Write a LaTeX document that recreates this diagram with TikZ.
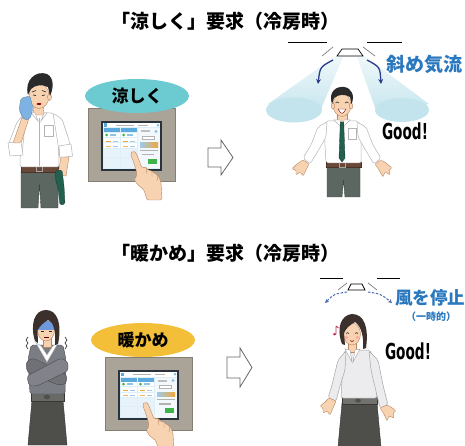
\documentclass[tikz,border=0pt]{standalone}
\usepackage{fontspec}
\newfontfamily\jp{Noto Sans CJK JP}
\newfontfamily\goodfont{DejaVu Sans}[FakeStretch=0.62]
\usetikzlibrary{arrows.meta,shapes.geometric}
\definecolor{tealc}{HTML}{6CCBD0}
\definecolor{yellowc}{HTML}{F3BE38}
\definecolor{panelgray}{HTML}{A9A398}
\definecolor{paneledge}{HTML}{857E73}
\definecolor{bezel}{HTML}{2A323C}
\definecolor{screenbg}{HTML}{DDEFF8}
\definecolor{uiblue}{HTML}{5BA9DD}
\definecolor{uigreen}{HTML}{3DB34A}
\definecolor{uiorange}{HTML}{F2A63A}
\definecolor{skinc}{HTML}{F7D3B2}
\definecolor{skinedge}{HTML}{B98660}
\definecolor{hairc}{HTML}{2A2A2A}
\definecolor{hairw}{HTML}{3B302C}
\definecolor{shirtedge}{HTML}{B4B4B8}
\definecolor{pantsc}{HTML}{5D6762}
\definecolor{pantsedge}{HTML}{3E4541}
\definecolor{beltc}{HTML}{6A4838}
\definecolor{tiec}{HTML}{22604F}
\definecolor{towelc}{HTML}{7DB2E2}
\definecolor{beamtop}{HTML}{EEF8FA}
\definecolor{beambot}{HTML}{C4E4ED}
\definecolor{arrowblue}{HTML}{2B3E8E}
\definecolor{dashblue}{HTML}{4C6CB4}
\definecolor{textblue}{HTML}{2A78BE}
\definecolor{wtop}{HTML}{7B7D84}
\definecolor{wtopedge}{HTML}{4A4C52}
\definecolor{skirtc}{HTML}{4E4F4A}
\definecolor{blousec}{HTML}{ECECEF}
\definecolor{notec}{HTML}{C0304E}
\tikzset{
  skin/.style={fill=skinc, draw=skinedge, line width=0.4pt},
  shirt/.style={fill=white, draw=shirtedge, line width=0.5pt},
  pants/.style={fill=pantsc, draw=pantsedge, line width=0.4pt},
  ceiling/.style={draw=black, line width=0.7pt},
  slant/.style={draw=gray, line width=0.7pt},
  unitbox/.style={fill=white, draw=black, line width=0.7pt},
  hollowarrow/.style={fill=white, draw=gray!80!black, line width=0.8pt, line join=miter},
  swing/.style={draw=arrowblue, line width=1.3pt, -{Stealth[length=5pt,width=5pt]}},
  halt/.style={draw=dashblue, line width=1pt, dashed, dash pattern=on 2.5pt off 1.5pt, -{Stealth[length=4pt,width=4pt]}},
  heading/.style={font=\jp\bfseries\fontsize{19}{19}\selectfont, inner sep=0pt},
  badge/.style={ellipse, minimum width=104pt, minimum height=34pt, inner sep=0pt, font=\jp\bfseries\fontsize{17}{17}\selectfont},
  bluelabel/.style={font=\jp\bfseries\fontsize{19}{19}\selectfont, text=textblue, inner sep=0pt},
  goodlabel/.style={font=\goodfont\bfseries\fontsize{22}{22}\selectfont, inner sep=0pt},
  ctrlpanel/.pic={
    \filldraw[fill=panelgray, draw=paneledge, line width=0.6pt] (0,0) rectangle (87,73);
    \fill[bezel] (13,13) rectangle (74,63);
    \fill[screenbg] (15,15) rectangle (72,61);
    % status bar
    \fill[white] (15,15) rectangle (72,19.5);
    \fill[uiblue] (15.5,15.5) rectangle (18.5,19);
    \fill[uiblue!80] (70,17.2) circle (1.4);
    \draw[gray!60, line width=0.4pt] (28,17.2) -- (46,17.2) (50,17.2) -- (60,17.2);
    % two zone columns
    \foreach \c in {16,33}{
      \fill[uiblue] (\c,20.5) rectangle ++(16,4);
      \fill[white] (\c,25) rectangle ++(16,4);
      \fill[uigreen] (\c+2.5,27) circle (1.5);
      \fill[uiblue!70] (\c+6,26.3) rectangle ++(6,1.4);
      \fill[white] (\c,30) rectangle ++(16,4.5);
      \fill[uiorange] (\c+2,32.8) rectangle ++(5,1);
      \fill[uiblue!60] (\c+9,32.8) rectangle ++(5,1);
      \fill[white] (\c,35.5) rectangle ++(16,4.5);
      \fill[uiorange!80] (\c+2,38.3) rectangle ++(5,1);
      \fill[uiblue!60] (\c+9,38.3) rectangle ++(5,1);
      \fill[white!85!uiblue] (\c,41) rectangle ++(16,8);
      \fill[white!85!uiblue] (\c,50) rectangle ++(16,10);
    }
    % settings column
    \fill[white!92!uiblue] (50,20.5) rectangle (71.5,60.5);
    \fill[gray!50] (53,22.5) rectangle (62,24.5);
    \fill[uiblue!70] (68,23.5) circle (1.6);
    \draw[gray!60, line width=0.4pt, fill=white] (54,28) rectangle (66,31.5);
    \shade[left color=uiblue!60, right color=uiorange] (52,35) rectangle (70,39.5);
    \draw[gray!60, line width=0.3pt] (52,42) -- (70,42);
    \fill[gray!60] (54,46) rectangle (66,47.5);
    \fill[uigreen] (60,51) rectangle (69,56);
  },
  pointhand/.pic={
    \filldraw[skin, rounded corners=1.5pt]
      (-2.5,1.5) -- (0,-1) -- (3,0.5) -- (9,16) -- (13,15) -- (16,19) -- (19,18.5)
      -- (22,22) -- (25,23) -- (28,30) -- (29,48) -- (14,48) -- (11,38) -- (4,32)
      -- (1,27) -- (4,24) -- (3,17) -- cycle;
    \draw[skinedge, line width=0.4pt] (13,15) -- (14,22) (19,18.5) -- (19,25) (25,23) -- (24,29);
  }
}
\begin{document}
\begin{tikzpicture}[x=1pt,y=-1pt]
\useasboundingbox (0,0) rectangle (465,446);
\fill[white] (0,0) rectangle (465,446);

% ===================== upper row: cooler request =====================
\node[heading] (t1) at (225,21) {「涼しく」要求（冷房時）};

% --- warm man wiping his face ---
\filldraw[pants] (21,171) -- (58,171) -- (58,208) -- (41,208) -- (39.5,184) -- (38,208) -- (21,208) -- cycle;
\filldraw[fill=beltc, draw=beltc!70!black, line width=0.3pt] (21,166) rectangle (58,172);
\draw[gray!70, line width=0.6pt] (36,166.5) rectangle (42,171.5);
% shirt
\filldraw[shirt, rounded corners=2pt] (25,113) -- (53,113) -- (58,121) -- (59,167) -- (20,167) -- (21,126) -- cycle;
\draw[shirtedge, line width=0.4pt] (39.5,118) -- (39.5,166);
\draw[shirtedge, line width=0.4pt] (44,125) rectangle (53,136);
\foreach \yy in {123,133,143,153,162}{\fill[gray!60] (39.5,\yy) circle (0.7);}
% hanging arm holding the tie
\filldraw[shirt, rounded corners=2pt] (53,113) -- (62,119) -- (69,140) -- (72,156) -- (60,158) -- (57,138) -- cycle;
\filldraw[shirt] (59,146) -- (71,144) -- (72.5,156) -- (60,158) -- cycle;
\filldraw[skin] (61,157) -- (69,157) -- (66,176) -- (58,175) -- cycle;
\filldraw[fill=tiec, draw=tiec!60!black, line width=0.3pt, rounded corners=1.5pt]
  (55,171) -- (62,170) -- (64,186) -- (65,204) -- (60,205) -- (58,188) -- (56,182) -- cycle;
% raised arm with towel
\filldraw[shirt, rounded corners=2pt] (25,113) -- (17,122) -- (9,143) -- (10,154) -- (22,155) -- (24,135) -- cycle;
\filldraw[shirt] (8,143) -- (21,141) -- (23,155) -- (10,156) -- cycle;
\filldraw[skin, rounded corners=2pt] (13,143) -- (21,143) -- (31,112) -- (26,106) -- cycle;
% neck and head
\filldraw[skin] (34,104) -- (43,104) -- (44,115) -- (33,115) -- cycle;
\filldraw[shirt] (31,113) -- (38,121) -- (35,113) -- cycle;
\filldraw[shirt] (47,113) -- (41,121) -- (44,113) -- cycle;
\filldraw[skin] (39,96) ellipse [x radius=10, y radius=12.5];
\filldraw[skin] (49.5,97) ellipse [x radius=2, y radius=3.5];
\fill[hairc] (28,95) .. controls (24,80) and (36,70) .. (47,74)
  .. controls (55,78) and (53,90) .. (50,96) -- (48,87)
  .. controls (42,84) and (35,85) .. (31,89) -- cycle;
\draw[hairc, line width=0.6pt] (32,92) -- (36,90.5) (42,90.5) -- (46,92);
\draw[hairc, line width=0.7pt] (33,95) -- (36,95.5) (42,95.5) -- (45,95);
\fill[red!60!black] (39,104) ellipse [x radius=2.5, y radius=1];
\filldraw[fill=towelc, draw=towelc!70!black, line width=0.3pt, rounded corners=2pt]
  (21,98) -- (30,96) -- (33,108) -- (30,119) -- (24,120) -- (19,110) -- cycle;

% --- controller with "cooler" badge ---
\pic at (88,108) {ctrlpanel};
\node[badge, fill=tealc] (b1) at (137,96) {涼しく};
\pic at (133,152) {pointhand};

% --- hollow arrow ---
\filldraw[hollowarrow] (208,148) -- (221,148) -- (221,140) -- (233,157.5) -- (221,175) -- (221,167) -- (208,167) -- cycle;

% --- ceiling unit with diagonal airflow ---
\shade[top color=beamtop, bottom color=beambot] (334,57) -- (268,104) -- (318,116) -- (343,57) -- cycle;
\fill[beambot] (294,110) ellipse [x radius=28, y radius=12.5];
\shade[top color=beamtop, bottom color=beambot] (357,57) -- (378,116) -- (429,104) -- (366,57) -- cycle;
\fill[beambot] (402,110) ellipse [x radius=27, y radius=12];
\coordinate (c1a) at (288,42); \coordinate (c1b) at (327,42);
\coordinate (c1c) at (367,42); \coordinate (c1d) at (402,42);
\draw[ceiling] (c1a) -- (c1b) (c1c) -- (c1d);
\draw[slant] (322,56) -- (333,47) (363,47) -- (375,56);
\filldraw[unitbox] (337,56) -- (342,49) -- (358,49) -- (363,56) -- cycle;
\coordinate (s1a) at (333,60); \coordinate (s1b) at (318,84);
\coordinate (s1c) at (367,60); \coordinate (s1d) at (381,84);
\draw[swing] (s1a) .. controls (320,67) .. (s1b);
\draw[swing] (s1c) .. controls (380,67) .. (s1d);
\node[bluelabel, anchor=west] (l1) at (386,64) {斜め気流};
\node[goodlabel] (g1) at (405,131) {Good!};

% --- comfortable man ---
\filldraw[pants] (327,167) -- (360,167) -- (360,197) -- (345,197) -- (343.5,180) -- (342,197) -- (327,197) -- cycle;
\filldraw[fill=beltc, draw=beltc!70!black, line width=0.3pt] (326,162) rectangle (361,167.5);
\draw[gray!70, line width=0.6pt] (339,162.5) rectangle (345,167);
\filldraw[shirt, rounded corners=2pt] (326,121) -- (358,121) -- (361,128) -- (361,163) -- (326,163) -- (324,128) -- cycle;
\draw[shirtedge, line width=0.4pt] (348,128) rectangle (356,139);
% arms spread out
\filldraw[shirt, rounded corners=2pt] (327,122) -- (318,127) -- (311,145) -- (303,158) -- (310,164) -- (318,151) -- (326,137) -- cycle;
\filldraw[shirt, rounded corners=2pt] (357,122) -- (366,127) -- (373,145) -- (381,158) -- (374,164) -- (366,151) -- (358,137) -- cycle;
\filldraw[skin, rounded corners=1pt] (303,160) -- (309,164) -- (306,170) -- (303,176) -- (300,172) -- (296,175) -- (296,170) -- (292,169) -- (297,164) -- cycle;
\filldraw[skin, rounded corners=1pt] (381,160) -- (375,164) -- (379,170) -- (383,177) -- (385,172) -- (390,175) -- (389,170) -- (392,168) -- (386,163) -- cycle;
% neck, collar, tie
\filldraw[skin] (337,114) -- (347,114) -- (347,122) -- (337,122) -- cycle;
\filldraw[shirt] (334,120) -- (341,127) -- (340,120) -- cycle;
\filldraw[shirt] (350,120) -- (343,127) -- (344,120) -- cycle;
\filldraw[fill=tiec, draw=tiec!60!black, line width=0.3pt] (340.3,122) -- (343.7,122) -- (345,158) -- (342,162) -- (339,158) -- cycle;
% head
\filldraw[skin] (342,105) ellipse [x radius=9, y radius=11.5];
\filldraw[skin] (333,106) ellipse [x radius=1.8, y radius=3];
\filldraw[skin] (351,106) ellipse [x radius=1.8, y radius=3];
\fill[hairc] (332,104) .. controls (328,92) and (336,86) .. (344,87)
  .. controls (352,88) and (355,96) .. (351.5,104) -- (350,97)
  .. controls (345,94) and (339,94) .. (334,98) -- cycle;
\draw[hairc, line width=0.6pt] (335.5,103) .. controls (337,101.5) .. (339,103)
  (345,103) .. controls (347,101.5) .. (348.5,103);
\filldraw[fill=white, draw=red!50!black, line width=0.4pt] (338,109) .. controls (342,115) .. (346,109) -- cycle;

% ===================== lower row: warmer request =====================
\node[heading] (t2) at (225,253) {「暖かめ」要求（冷房時）};

% --- chilly woman hugging herself ---
\filldraw[fill=skirtc, draw=skirtc!70!black, line width=0.4pt] (32,400) -- (63,400) -- (67,445) -- (28,445) -- cycle;
\filldraw[fill=skirtc!85!white, draw=skirtc!70!black, line width=0.4pt] (31,393) -- (64,393) -- (64,401) -- (31,401) -- cycle;
\filldraw[fill=skirtc, draw=black!60, line width=0.4pt] (47,397) ellipse [x radius=3.5, y radius=2.5];
\filldraw[fill=wtop, draw=wtopedge, line width=0.4pt, rounded corners=2pt] (31,345) -- (63,345) -- (66,360) -- (65,394) -- (30,394) -- (28,360) -- cycle;
\filldraw[fill=wtop!90!black, draw=wtopedge, line width=0.4pt, rounded corners=3pt] (26,362) -- (33,358) -- (67,375) -- (66,384) -- (58,385) -- (27,372) -- cycle;
\filldraw[fill=wtop!95!white, draw=wtopedge, line width=0.4pt, rounded corners=3pt] (68,362) -- (61,358) -- (27,376) -- (29,386) -- (37,386) -- (68,371) -- cycle;
\filldraw[skin] (43,337) -- (51,337) -- (51,347) -- (43,347) -- cycle;
\filldraw[fill=white, draw=shirtedge, line width=0.4pt] (36,343) -- (47,362) -- (58,343) -- (53,346) -- (47,355) -- (41,346) -- cycle;
\filldraw[skin] (46,330) ellipse [x radius=8.5, y radius=11];
\fill[blue!60!cyan, opacity=0.55] (38,321) rectangle (54.5,330);
\fill[hairw] (35,341) .. controls (30,325) and (34,310) .. (46,310)
  .. controls (58,310) and (62,325) .. (58,344) -- (55,345)
  .. controls (56,332) and (54,322) .. (48,320)
  .. controls (44,322) and (40,326) .. (37.5,330) -- (38,343) -- cycle;
\draw[hairc, line width=0.6pt] (41,331) -- (44,331) (49,331) -- (52,331);
\draw[red!40!black, line width=0.5pt] (44,337) -- (49,337);
\draw[hairc, line width=0.6pt] (28,337) -- (26,340) -- (28,343) -- (26,346) -- (28,349);
\draw[hairc, line width=0.6pt] (65,337) -- (67,340) -- (65,343) -- (67,346) -- (65,349);

% --- controller with "warmer" badge ---
\pic at (105,357) {ctrlpanel};
\node[badge, fill=yellowc] (b2) at (143,340) {暖かめ};
\pic at (145,403) {pointhand};

% --- hollow arrow ---
\filldraw[hollowarrow] (227,357) -- (240,357) -- (240,348) -- (252,367.5) -- (240,387) -- (240,378) -- (227,378) -- cycle;

% --- ceiling unit with paused airflow ---
\coordinate (c2a) at (320,278); \coordinate (c2b) at (343,278);
\coordinate (c2c) at (377,278); \coordinate (c2d) at (400,278);
\draw[ceiling] (c2a) -- (c2b) (c2c) -- (c2d);
\draw[slant] (338,290) -- (347,283) (368,283) -- (377,290);
\filldraw[unitbox] (348,290) -- (351,284) -- (362,284) -- (365,290) -- cycle;
\coordinate (s2a) at (347,292); \coordinate (s2b) at (325,303);
\coordinate (s2c) at (368,292); \coordinate (s2d) at (392,303);
\draw[halt] (s2a) .. controls (334,294) .. (s2b);
\draw[halt] (s2c) .. controls (381,294) .. (s2d);
\node[bluelabel, anchor=west, font=\jp\bfseries\fontsize{17.5}{17.5}\selectfont] (l2) at (395,298) {風を停止};
\node[font=\jp\bfseries\fontsize{10}{10}\selectfont, text=textblue, inner sep=0pt] (l3) at (431,317) {（一時的）};
\node[goodlabel] (g2) at (408,351) {Good!};

% --- relaxed woman ---
\filldraw[fill=skirtc, draw=skirtc!70!black, line width=0.4pt] (342,403) -- (377,403) -- (381,447) -- (338,447) -- cycle;
\filldraw[fill=skirtc!80!white, draw=skirtc!70!black, line width=0.4pt] (342,397) -- (377,397) -- (377,404) -- (342,404) -- cycle;
\filldraw[fill=skirtc, draw=black!60, line width=0.4pt] (358,400.5) ellipse [x radius=3, y radius=2.3];
\filldraw[fill=blousec, draw=gray!70, line width=0.5pt, rounded corners=2pt] (345,350) -- (370,350) -- (374,360) -- (377,398) -- (341,398) -- (343,360) -- cycle;
\filldraw[fill=blousec, draw=gray!70, line width=0.5pt, rounded corners=2pt] (346,351) -- (338,360) -- (332,385) -- (328,398) -- (336,401) -- (340,386) -- (345,370) -- cycle;
\filldraw[fill=blousec, draw=gray!70, line width=0.5pt, rounded corners=2pt] (369,351) -- (378,360) -- (383,385) -- (388,405) -- (380,408) -- (375,387) -- (371,370) -- cycle;
\filldraw[skin, rounded corners=1pt] (329,398) -- (336,401) -- (333,408) -- (330,415) -- (327,411) -- (323,413) -- (323,408) -- (320,406) -- (325,402) -- cycle;
\filldraw[skin, rounded corners=1pt] (387,405) -- (380,408) -- (384,414) -- (387,421) -- (389,416) -- (394,418) -- (393,413) -- (396,411) -- (391,407) -- cycle;
\filldraw[skin] (348,343) -- (356,343) -- (356,352) -- (348,352) -- cycle;
\filldraw[fill=white, draw=gray!70, line width=0.4pt] (345,349) -- (352,362) -- (350,350) -- cycle;
\filldraw[fill=white, draw=gray!70, line width=0.4pt] (360,349) -- (353,362) -- (355,350) -- cycle;
\filldraw[skin] (352,334) ellipse [x radius=8.5, y radius=11];
\fill[hairw] (342,344) .. controls (336,328) and (341,315) .. (352,314)
  .. controls (364,314) and (369,327) .. (366,348) -- (363,349)
  .. controls (364,336) and (361,326) .. (355,322)
  .. controls (350,325) and (346,328) .. (344,333) -- (345,345) -- cycle;
\draw[hairc, line width=0.6pt] (346,333.5) .. controls (347.5,332.3) .. (349,333.5)
  (355,333.5) .. controls (356.5,332.3) .. (358,333.5);
\fill[red!40, opacity=0.7] (346.5,337.5) circle (1.8) (357.5,337.5) circle (1.8);
\draw[red!50!black, line width=0.5pt] (350,340.5) .. controls (352,341.8) .. (354,340.5);
% music note
\draw[notec, line width=0.8pt] (336,326) -- (336,334) (336,326) -- (338.5,328);
\fill[notec] (334.6,334.2) ellipse [x radius=1.8, y radius=1.3];
\end{tikzpicture}
\end{document}
